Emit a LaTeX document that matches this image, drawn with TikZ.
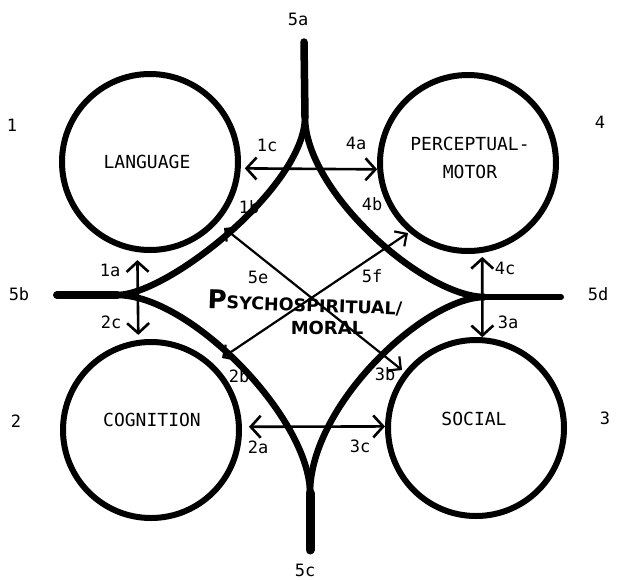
\documentclass[tikz,border=0pt]{standalone}
\usepackage{fontspec}
\setmainfont{DejaVu Sans Mono}
\newfontfamily\brushfont{DejaVu Sans}
\usetikzlibrary{arrows.meta,calc}
\begin{document}
\begin{tikzpicture}[x=1pt,y=-1pt,
  ring/.style={draw, circle, line width=6pt, minimum size=176pt, inner sep=0pt},
  ringtext/.style={font=\fontsize{18}{28}\selectfont, align=center, inner sep=0pt},
  lab/.style={font=\fontsize{17}{17}\selectfont, inner sep=0pt},
  band/.style={line width=6.5pt},
  stem/.style={line width=7.5pt, line cap=round},
  link/.style={line width=2.6pt, {Straight Barb[length=10pt,width=22pt]}-{Straight Barb[length=10pt,width=22pt]}},
  diag/.style={line width=2.2pt, {Straight Barb[length=9pt,width=18pt]}-{Straight Barb[length=9pt,width=18pt]}}
]
\fill[white] (0,0) rectangle (618,579);
\useasboundingbox (0,0) rectangle (618,579);

% circles
\node[ring] (lang) at (150,162) {};
\node[ring] (pm) at (468,163) {};
\node[ring] (cog) at (151,430) {};
\node[ring] (soc) at (476,428) {};

\node[ringtext] (tlang) at (147,162) {LANGUAGE};
\node[ringtext] (tpm) at (470,158) {PERCEPTUAL-\\MOTOR};
\node[ringtext] (tcog) at (152,420) {COGNITION};
\node[ringtext] (tsoc) at (474,419) {SOCIAL};

% cusps
\coordinate (ct) at (305,117);
\coordinate (cl) at (117,295);
\coordinate (cr) at (485,297);
\coordinate (cb) at (310,493);
\coordinate (ctt) at (304,42);
\coordinate (clt) at (57,295);
\coordinate (crt) at (561,297);
\coordinate (cbt) at (310,550);

\draw[band] (ct) .. controls +(0,69) and +(51,0) .. (cl);
\draw[band] (ct) .. controls +(0,75) and +(-61,0) .. (cr);
\draw[band] (cl) .. controls +(74,0) and +(0,-74) .. (cb);
\draw[band] (cb) .. controls +(0,-88) and +(-60,0) .. (cr);

\draw[stem] (ct) -- (ctt);
\draw[stem, line width=8pt] (cl) -- (clt);
\draw[stem, line width=6pt] (cr) -- (crt);
\draw[stem, line width=9pt] (cb) -- (cbt);

% connectors
\draw[link, shorten <=4pt] (lang.-4) -- (pm.184);
\draw[link, shorten <=7pt] (cog.2) -- (soc.179);
\draw[link, shorten <=8pt, shorten >=5pt] (lang.-98) -- (cog.98);
\draw[link, shorten <=4pt] (pm.-81) -- (soc.86);
\draw[diag] ($(lang)+(74,66)$) -- ($(soc)+(-74,-58)$);
\draw[diag] ($(cog)+(71,-72)$) -- ($(pm)+(-60,70)$);

% labels
\node[lab] (n1) at (12,125) {1};
\node[lab] (n4) at (600,122) {4};
\node[lab] (n2) at (16,421) {2};
\node[lab] (n3) at (605,418) {3};
\node[lab] (n5a) at (298,19) {5a};
\node[lab] (n5c) at (305,570) {5c};
\node[lab] (n5b) at (19,294) {5b};
\node[lab] (n5d) at (598,294) {5d};
\node[lab] (n1c) at (267,145) {1c};
\node[lab] (n4a) at (356,143) {4a};
\node[lab] (n1b) at (249,207) {1b};
\node[lab] (n4b) at (372,204) {4b};
\node[lab] (n1a) at (110,270) {1a};
\node[lab] (n2c) at (111,322) {2c};
\node[lab] (n4c) at (505,268) {4c};
\node[lab] (n3a) at (508,322) {3a};
\node[lab] (n5e) at (258,277) {5e};
\node[lab] (n5f) at (372,276) {5f};
\node[lab] (n2b) at (239,376) {2b};
\node[lab] (n3b) at (385,374) {3b};
\node[lab] (n2a) at (258,447) {2a};
\node[lab] (n3c) at (360,446) {3c};

\node[inner sep=0pt, font=\brushfont\bfseries, rotate=-2] (psy) at (305,303)
  {\fontsize{26}{26}\selectfont P\fontsize{17.5}{17.5}\selectfont SYCHOSPIRITUAL/};
\node[inner sep=0pt, font=\brushfont\bfseries\fontsize{18}{18}\selectfont] (moral) at (327,328) {MORAL};
\end{tikzpicture}
\end{document}
